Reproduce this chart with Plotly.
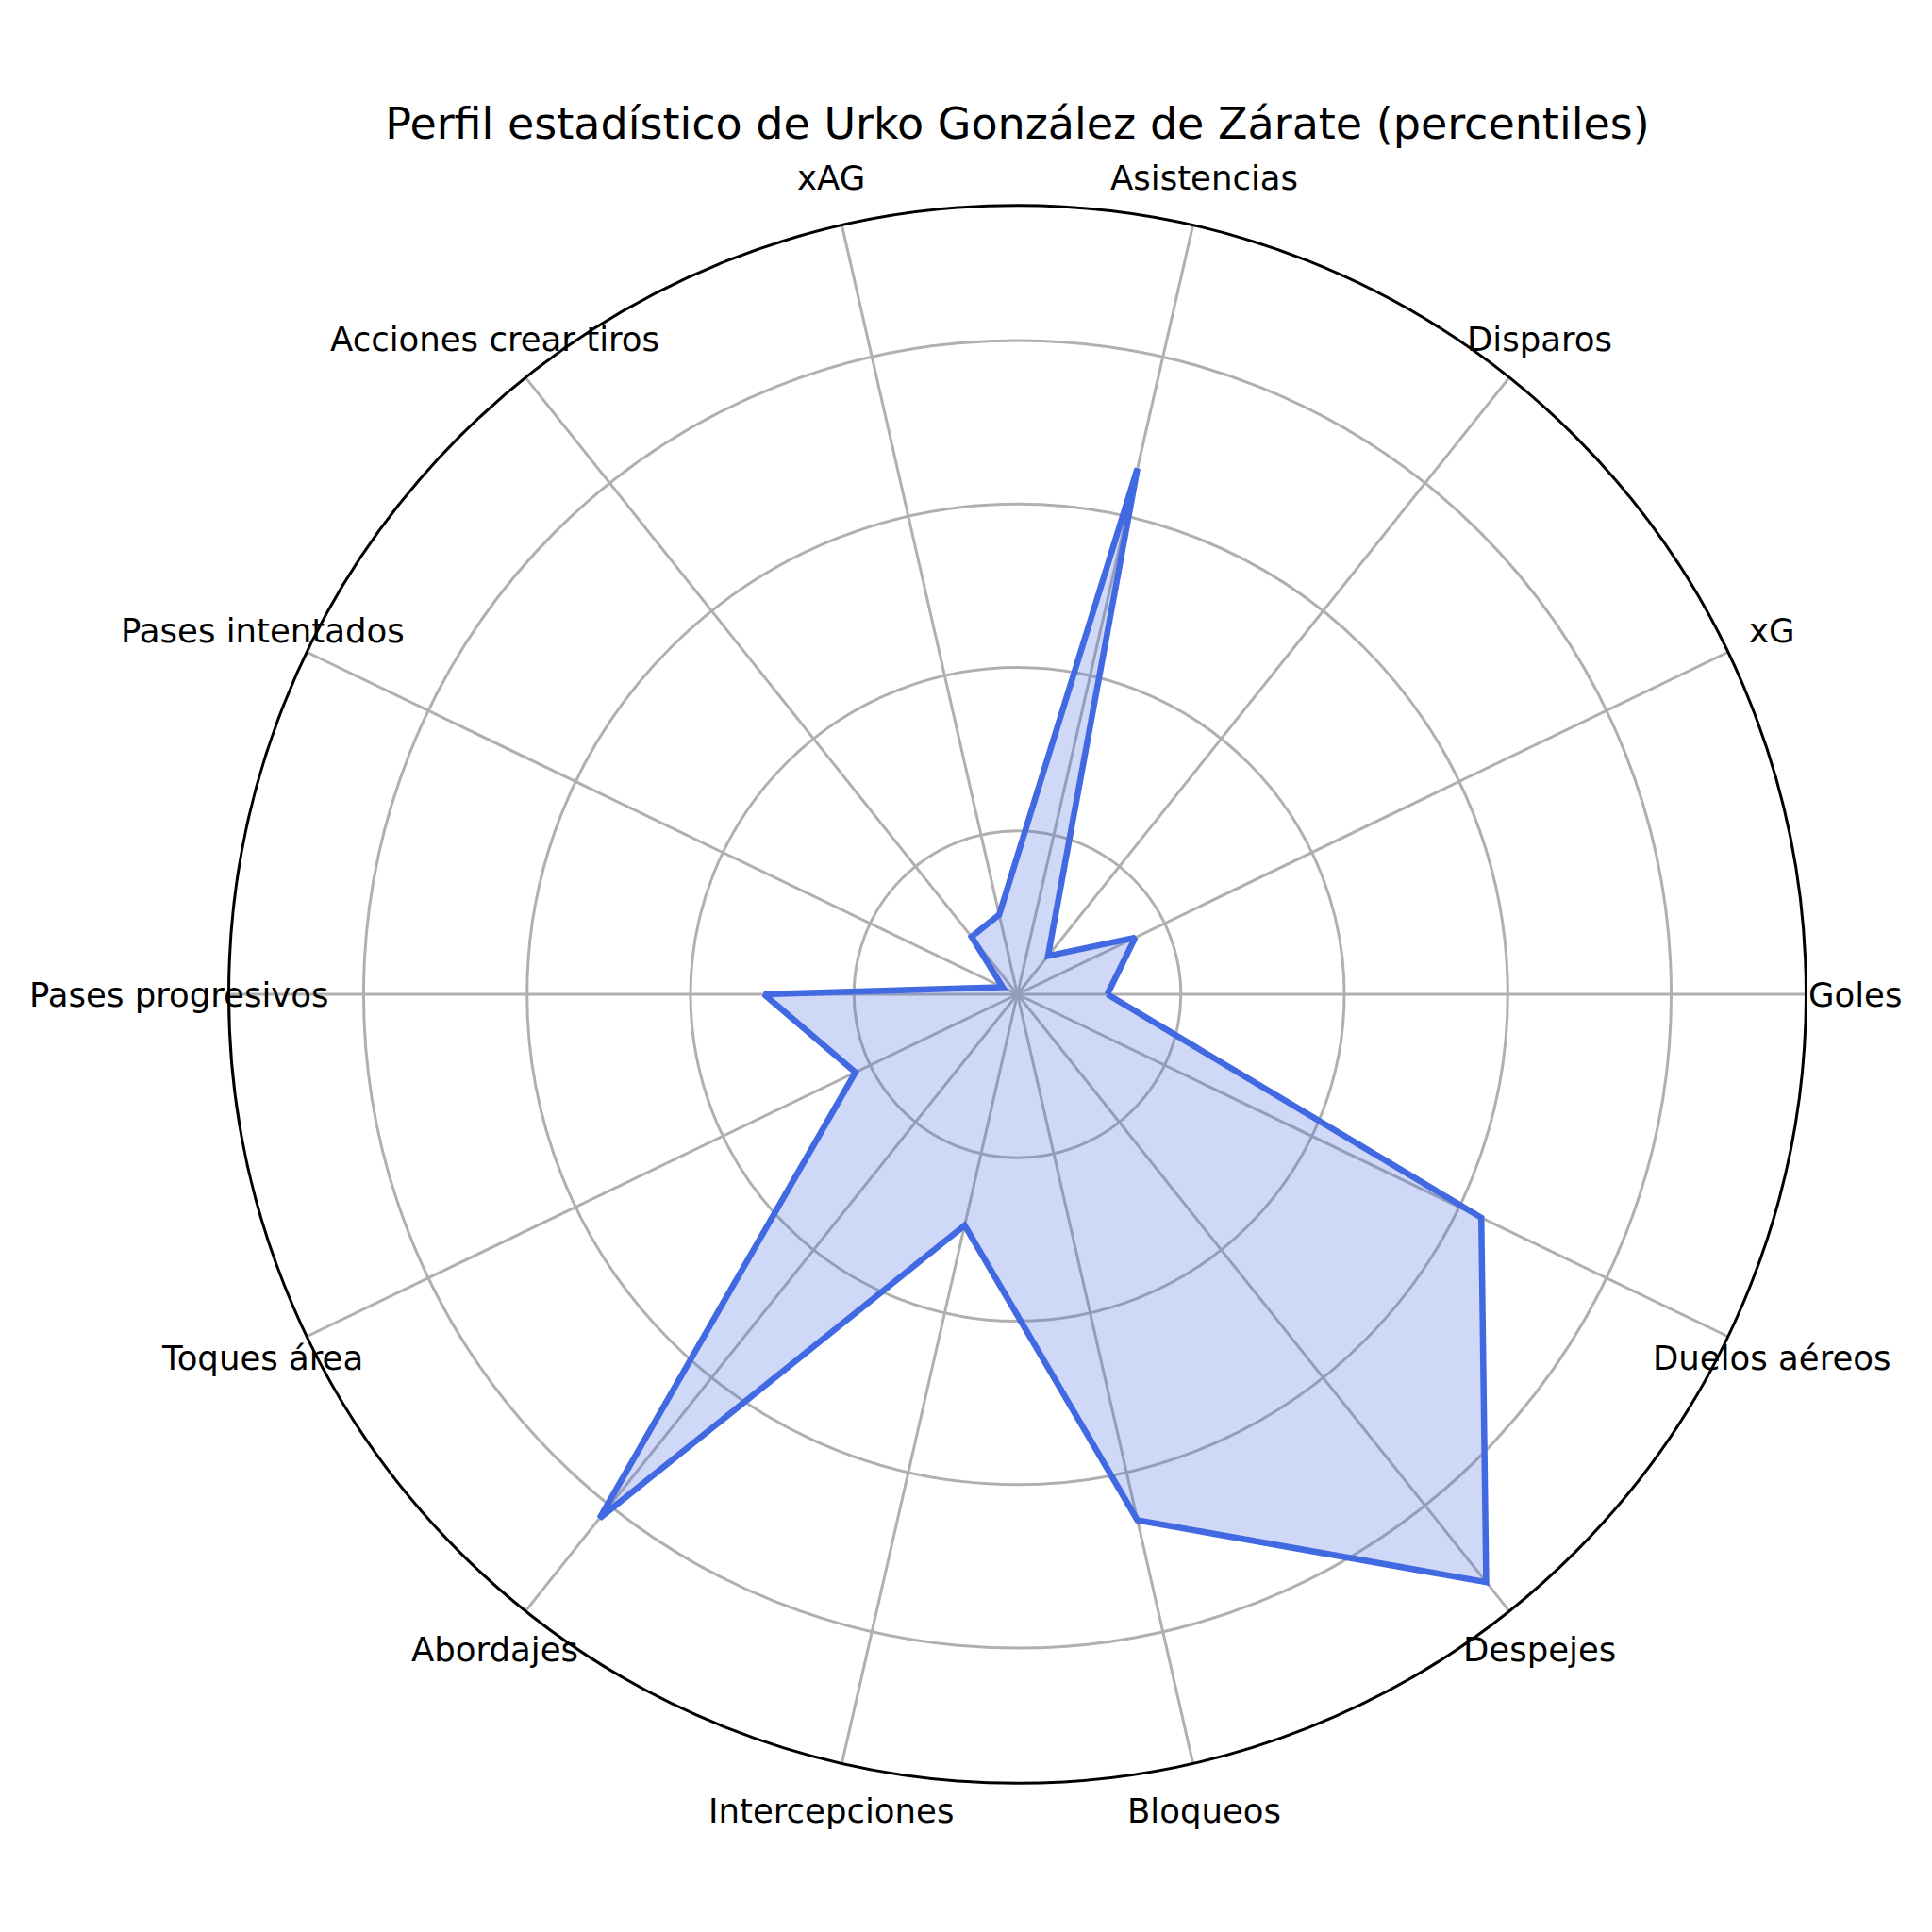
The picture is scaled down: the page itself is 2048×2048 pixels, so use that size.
import math
import plotly.graph_objects as go

categories = ["Goles", "xG", "Disparos", "Asistencias", "xAG", "Acciones crear tiros",
              "Pases intentados", "Pases progresivos", "Toques área", "Abordajes",
              "Intercepciones", "Bloqueos", "Despejes", "Duelos aéreos"]
percentiles = [11, 16, 6, 66, 10, 9, 2, 31, 22, 82, 29, 66, 92, 63]
grid_values = [20, 40, 60, 80]
title_text = "Perfil estadístico de Urko González de Zárate (percentiles)"

n = len(categories)
angles = [i * 360.0 / n for i in range(n)]
theta_closed = angles + [angles[0]]
r_closed = percentiles + [percentiles[0]]

r_max = max(percentiles) + 0.05 * (max(percentiles) - min(percentiles))

W = 2032
H = 2032
off = 8
# polar circle geometry (screen pixels)
cx, cy, R = 1078.5, 1054.0, 836.0
label_r = R * 1.0625

fig = go.Figure()
fig.add_trace(go.Scatterpolar(
    r=r_closed,
    theta=theta_closed,
    mode="lines",
    fill="toself",
    fillcolor="rgba(65,105,225,0.25)",
    line=dict(color="#4169E1", width=6.5),
    hoverinfo="skip",
    showlegend=False,
))

annotations = []
for cat, a in zip(categories, angles):
    px = cx + label_r * math.cos(math.radians(a))
    py = cy - label_r * math.sin(math.radians(a))
    annotations.append(dict(
        text=cat,
        xref="paper", yref="paper",
        x=(px - off) / W, y=1 - (py - off) / H,
        xanchor="center", yanchor="middle",
        showarrow=False,
        font=dict(family="DejaVu Sans", size=35.5, color="black"),
    ))

fig.update_layout(
    width=W,
    height=H,
    margin=dict(l=0, r=0, t=0, b=0),
    paper_bgcolor="white",
    font=dict(family="DejaVu Sans", color="black", size=35.5),
    annotations=annotations,
    title=dict(
        text=title_text,
        x=(1078.5 - off) / W,
        xanchor="center",
        y=1 - (131 - off) / H,
        yanchor="middle",
        font=dict(family="DejaVu Sans", size=46, color="black"),
    ),
    polar=dict(
        domain=dict(
            x=[(cx - R - off) / W, (cx + R - off) / W],
            y=[1 - (cy + R - off) / H, 1 - (cy - R - off) / H],
        ),
        bgcolor="white",
        angularaxis=dict(
            direction="counterclockwise",
            rotation=0,
            tickmode="array",
            tickvals=angles,
            ticktext=categories,
            showticklabels=False,
            ticks="",
            showline=True,
            linecolor="black",
            linewidth=3,
            showgrid=True,
            gridcolor="#b0b0b0",
            gridwidth=2.5,
        ),
        radialaxis=dict(
            range=[0, r_max],
            tickmode="array",
            tickvals=grid_values,
            showticklabels=False,
            ticks="",
            showline=False,
            showgrid=True,
            gridcolor="#b0b0b0",
            gridwidth=2.5,
        ),
    ),
)

fig.write_html("out.html")
